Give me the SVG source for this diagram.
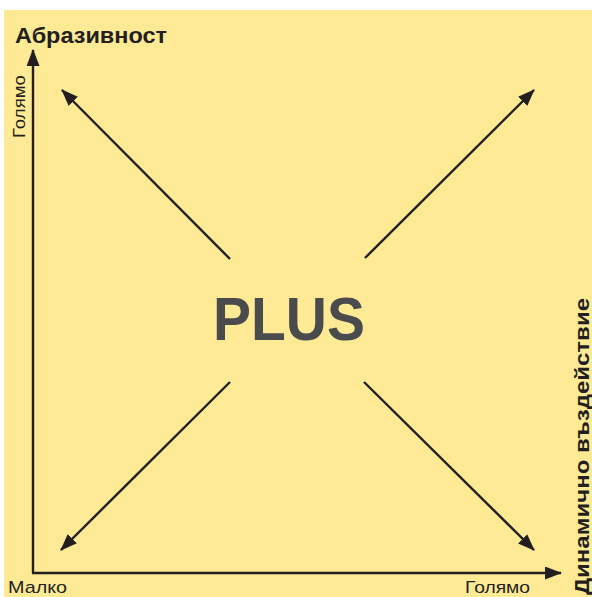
<svg xmlns="http://www.w3.org/2000/svg" width="592" height="597" viewBox="0 0 592 597">
<defs>
<style>
.lbl{font-family:"Liberation Sans",Arial,sans-serif;fill:#231f20}
.b{font-weight:bold}
.ln{stroke:#231f20;stroke-width:2.4;fill:none}
</style>
<marker id="ah" viewBox="0 0 17 13" refX="16" refY="6.5" markerWidth="17" markerHeight="13" markerUnits="userSpaceOnUse" orient="auto">
<path d="M0,0 L17,6.5 L0,13 Z" fill="#231f20"/>
</marker>
</defs>
<rect x="0" y="0" width="592" height="597" fill="#ffffff"/>
<rect x="4" y="10" width="588" height="587" fill="#fee995"/>
<g id="connectors">
<path class="ln" d="M33,573 L33,50" marker-end="url(#ah)"/>
<path class="ln" d="M32,573 L561,573" marker-end="url(#ah)"/>
<path class="ln" d="M230,259 L62,90" marker-end="url(#ah)"/>
<path class="ln" d="M365,258 L534,90" marker-end="url(#ah)"/>
<path class="ln" d="M230,382 L61,550" marker-end="url(#ah)"/>
<path class="ln" d="M364,382 L534,550" marker-end="url(#ah)"/>
</g>
<g id="title-y"><text class="lbl b" x="15" y="43" font-size="22" textLength="152" lengthAdjust="spacingAndGlyphs">Абразивност</text></g>
<g id="y-high"><text class="lbl" transform="translate(25,138) rotate(-90)" font-size="17" textLength="63" lengthAdjust="spacingAndGlyphs">Голямо</text></g>
<g id="x-low"><text class="lbl" x="8" y="593" font-size="17" textLength="59" lengthAdjust="spacingAndGlyphs">Малко</text></g>
<g id="x-high"><text class="lbl" x="465" y="593" font-size="17" textLength="65" lengthAdjust="spacingAndGlyphs">Голямо</text></g>
<g id="title-x"><text class="lbl b" transform="translate(589,595) rotate(-90)" font-size="21" textLength="297" lengthAdjust="spacingAndGlyphs">Динамично въздействие</text></g>
<g id="center"><text x="213" y="340" font-family="Liberation Sans,Arial,sans-serif" font-weight="bold" font-size="62" fill="#4a4b4d" textLength="152" lengthAdjust="spacingAndGlyphs">PLUS</text></g>
</svg>
